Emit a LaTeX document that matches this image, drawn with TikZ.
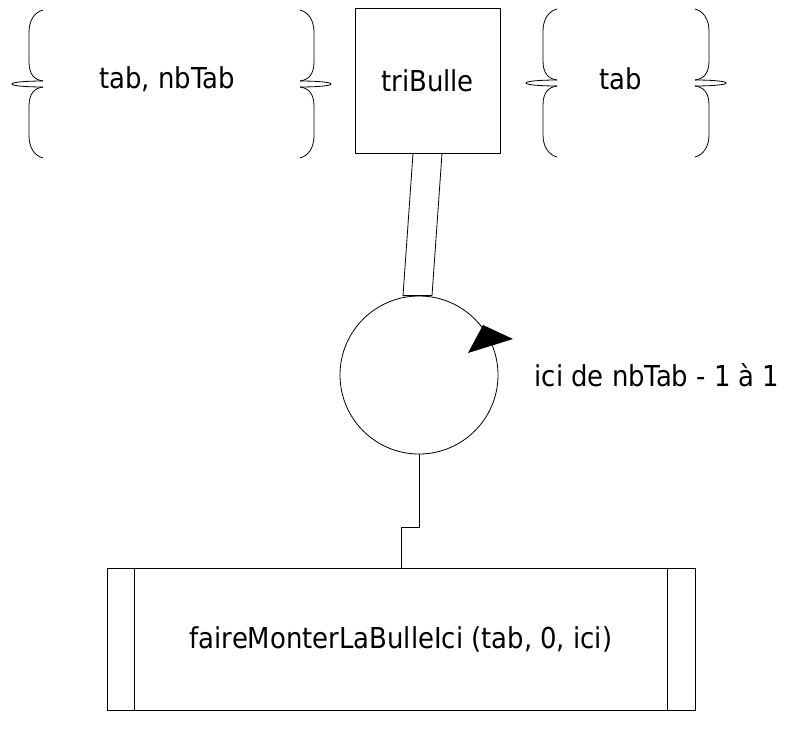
\documentclass[tikz,border=0pt]{standalone}
\usepackage{fontspec}
\setmainfont{DejaVu Sans Condensed}
\usetikzlibrary{calc,positioning}

\tikzset{
    trait/.style = {line width = 0.8pt},
    texte/.style = {font = \fontsize{28.8}{34}\selectfont},
    boite/.style = {draw, trait, texte, minimum width = 145pt, minimum height = 145pt},
    boucle/.style = {draw, trait, circle, minimum size = 158pt, inner sep = 0pt},
    appel/.style = {draw, trait, texte, minimum width = 588pt, minimum height = 142pt},
    accolade/.pic = {
        \draw[trait] (0,-3) .. controls (-8,-4) and (-14,-9) .. (-14,-22) -- (-14,-52) .. controls (-14,-64) and (-8,-72) .. (0,-74);
        \draw[trait] (0,3) .. controls (-8,4) and (-14,9) .. (-14,22) -- (-14,52) .. controls (-14,64) and (-8,72) .. (0,74);
        \draw[trait] (0,-3) .. controls (-15,-3) and (-31,-2) .. (-31,0) .. controls (-31,2) and (-15,3) .. (0,3);
    }
}

\begin{document}
\begin{tikzpicture}[x = 1pt, y = -1pt]
        \useasboundingbox (0,0) rectangle (810,746);
        % parametres et procedure
        \node[texte] (entree) at (167,79) {tab, nbTab};
        \node[boite] (tri) at (427.5,80.5) {triBulle};
        \node[texte] (sortie) at (621,79) {tab};
        \pic at (43,84) {accolade};
        \pic[xscale = -1] at (300,84) {accolade};
        \pic at (557,83) {accolade};
        \pic[xscale = -1] at (695,83) {accolade};
        % boucle
        \node[boucle] (cercle) at (419,375) {};
        \node[texte, inner sep = 0pt, right = 36pt of cercle] (plage) {ici de nbTab - 1 à 1};
        \fill ($(cercle.center)+(49,-22)$) -- ($(cercle.center)+(64,-50)$) -- ($(cercle.center)+(94,-36)$) -- cycle;
        \draw[trait] ($(tri.south)+(-14.5,0)$) -- ($(cercle.north)+(-16,0)$) -- ($(cercle.north)+(13,0)$) -- ($(tri.south)+(14.5,0)$);
        % appel
        \node[appel] (appel) at (401,639) {faireMonterLaBulleIci (tab, 0, ici)};
        \draw[trait] ($(appel.north west)+(28,0)$) -- ($(appel.south west)+(28,0)$);
        \draw[trait] ($(appel.north east)+(-28,0)$) -- ($(appel.south east)+(-28,0)$);
        \draw[trait] (cercle.south) -- ++(0,73) -| (appel.north);
    \end{tikzpicture}
\end{document}
